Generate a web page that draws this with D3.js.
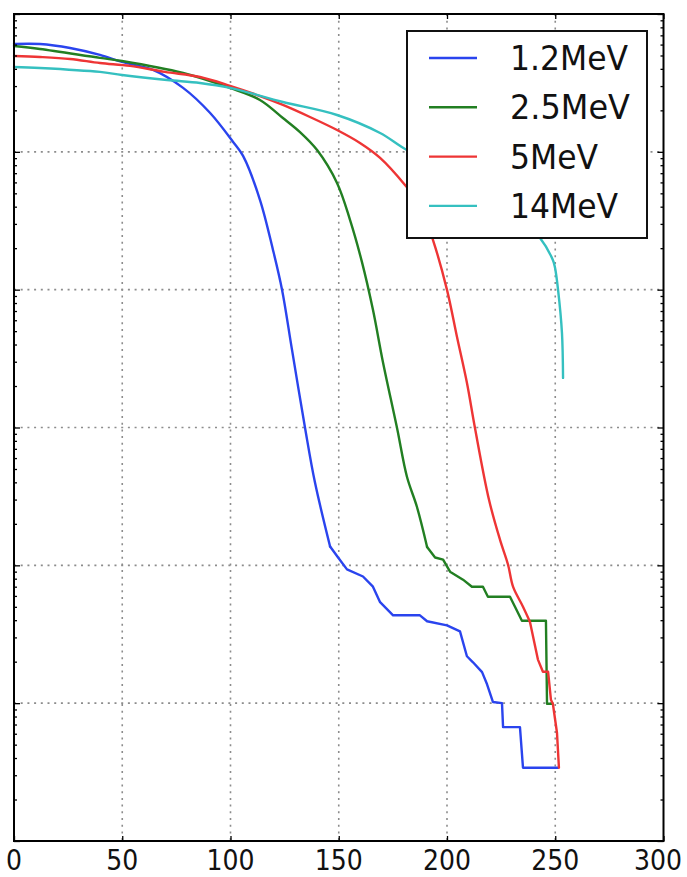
<!DOCTYPE html>
<html>
<head>
<meta charset="utf-8">
<script src="https://cdnjs.cloudflare.com/ajax/libs/d3/7.8.5/d3.min.js"></script>
<style>
body { margin: 0; background: #fff; }
</style>
</head>
<body>
<div id="chart"></div>
<script>
//Series names shown in the legend
var seriesNames = ["1.2MeV", "2.5MeV", "5MeV", "14MeV"];

//1.2MeV curve
var x12 = [0, 12.0, 25.9, 39.7, 49.9, 64.2, 78.1, 90.5, 101.2, 105.8, 113.6, 119.6, 123.8, 128.4, 134.4, 139.0, 146.0, 149.7, 153.8, 161.2, 165.8, 169.1, 175.1, 187.5, 190.8, 200.0, 206.0, 209.2, 212.0, 216.2, 218.5, 221.2, 225.4, 225.9, 233.7, 235.1, 251.3];
var y12 = [0.606, 0.606, 0.567, 0.505, 0.449, 0.393, 0.291, 0.192, 0.118, 0.0934, 0.0449, 0.0195, 0.01, 3.67e-3, 1e-3, 4.0e-4, 1.37e-4, 1.14e-4, 9.35e-5, 8.3e-5, 7.0e-5, 5.4e-5, 4.34e-5, 4.34e-5, 3.93e-5, 3.67e-5, 3.32e-5, 2.19e-5, 1.98e-5, 1.68e-5, 1.37e-5, 1.02e-5, 1.0e-5, 6.7e-6, 6.7e-6, 3.4e-6, 3.4e-6];

//2.5MeV curve
var x25 = [0, 12.0, 39.7, 49.9, 78.1, 99.8, 113.6, 124.2, 132.1, 140.0, 149.2, 155.2, 160.7, 165.8, 170.4, 176.9, 181.5, 186.1, 190.8, 194.5, 198.2, 201.4, 207.4, 211.5, 216.6, 218.9, 229.1, 231.4, 234.6, 245.7, 246.2, 248.9];
var y25 = [0.586, 0.557, 0.480, 0.456, 0.373, 0.291, 0.238, 0.176, 0.139, 0.103, 0.0595, 0.0321, 0.0159, 7.14e-3, 2.99e-3, 9.95e-4, 4.39e-4, 2.66e-4, 1.36e-4, 1.14e-4, 1.10e-4, 8.99e-5, 7.87e-5, 7.0e-5, 7.0e-5, 5.92e-5, 5.92e-5, 5.01e-5, 3.96e-5, 3.96e-5, 9.9e-6, 9.9e-6];

//5MeV curve
var x5 = [0, 12.0, 25.9, 39.7, 53.6, 69.7, 85.9, 99.8, 113.6, 124.2, 136.7, 149.2, 159.8, 169.1, 180.6, 187.5, 193.5, 200.0, 204.6, 209.2, 212.9, 219.4, 224.5, 228.2, 230.5, 235.1, 238.3, 242.0, 244.3, 246.7, 248.0, 248.9, 250.8, 251.7];
var y5 = [0.496, 0.488, 0.472, 0.441, 0.420, 0.380, 0.349, 0.301, 0.254, 0.219, 0.179, 0.144, 0.116, 0.0904, 0.0575, 0.0412, 0.0230, 9.97e-3, 4.55e-3, 2.11e-3, 9.95e-4, 2.99e-4, 1.53e-4, 1.01e-4, 7.0e-5, 5.01e-5, 3.90e-5, 2.07e-5, 1.69e-5, 1.69e-5, 1.06e-5, 9.9e-6, 6.1e-6, 3.4e-6];

//14MeV curve
var x14 = [0, 12.0, 39.7, 49.9, 70.7, 85.9, 99.8, 124.2, 149.2, 169.1, 181.5, 201.4, 219.9, 233.7, 242.9, 248.9, 249.9, 251.3, 253.1, 253.6];
var y14 = [0.413, 0.406, 0.380, 0.361, 0.332, 0.316, 0.291, 0.230, 0.185, 0.137, 0.103, 0.0739, 0.0504, 0.0332, 0.0238, 0.0164, 0.0144, 9.97e-3, 4.86e-3, 2.29e-3];

//Axis ticks
var xTicks = [0, 50, 100, 150, 200, 250, 300];
var yDecades = [1e-6, 1e-5, 1e-4, 1e-3, 1e-2, 1e-1, 1];

var seriesX = [x12, x25, x5, x14];
var seriesY = [y12, y25, y5, y14];
var colors = ["#2a44ee", "#227f22", "#ee3535", "#35c0c0"];
//how many leading points of each curve are drawn smooth; the stepped tail is drawn straight
var smoothCount = [17, 19, 27, 20];

var width = 687;
var height = 877;
//plot box edges (not named top/left: top is taken by window.top)
var pLeft = 14, pRight = 663.5, pTop = 14, pBottom = 841;

var xScale = d3.scaleLinear().domain([0, 300]).range([pLeft, pRight]);
var yScale = d3.scaleLog().domain([1e-6, 1]).range([pBottom, pTop]);

var svg = d3.select("#chart").append("svg")
    .attr("width", width)
    .attr("height", height)
    .style("font-family", "DejaVu Sans, sans-serif");

svg.append("rect").attr("width", width).attr("height", height).attr("fill", "#fff");

//Dotted grid
var grid = svg.append("g")
    .attr("stroke", "#8c8c8c")
    .attr("stroke-width", 1.6)
    .attr("stroke-dasharray", "2,4.7");

grid.selectAll(".gx")
    .data(xTicks.slice(1, -1))
    .enter().append("line")
        .attr("x1", function(d){ return xScale(d); })
        .attr("x2", function(d){ return xScale(d); })
        .attr("y1", pTop)
        .attr("y2", pBottom);

grid.selectAll(".gy")
    .data(yDecades.slice(1, -1))
    .enter().append("line")
        .attr("y1", function(d){ return yScale(d); })
        .attr("y2", function(d){ return yScale(d); })
        .attr("x1", pLeft)
        .attr("x2", pRight);

//Curves
var smoothLine = d3.line()
    .curve(d3.curveCatmullRom.alpha(0.5))
    .x(function(d){ return xScale(d[0]); })
    .y(function(d){ return yScale(d[1]); });

var stepLine = d3.line()
    .x(function(d){ return xScale(d[0]); })
    .y(function(d){ return yScale(d[1]); });

seriesX.forEach(function(xs, i){
    var pts = xs.map(function(x, j){ return [x, seriesY[i][j]]; });
    var n = smoothCount[i];
    var parts = [[smoothLine, pts.slice(0, n)]];
    if (n < pts.length) parts.push([stepLine, pts.slice(n - 1)]);
    parts.forEach(function(p){
        svg.append("path")
            .datum(p[1])
            .attr("d", p[0])
            .attr("fill", "none")
            .attr("stroke", colors[i])
            .attr("stroke-width", 2.4)
            .attr("stroke-linejoin", "round")
            .attr("stroke-linecap", "round");
    });
});

//Ticks pointing inward on all four sides
var xTop = d3.axisBottom(xScale).tickValues(xTicks).tickSizeInner(5).tickSizeOuter(0).tickFormat("");
var xBot = d3.axisTop(xScale).tickValues(xTicks).tickSizeInner(5).tickSizeOuter(0).tickFormat("");
svg.append("g").attr("transform", "translate(0," + pTop + ")").call(xTop);
svg.append("g").attr("transform", "translate(0," + pBottom + ")").call(xBot);

var minor = [];
yDecades.slice(0, -1).forEach(function(d){
    for (var k = 2; k < 10; k++) minor.push(d * k);
});

var yL = d3.axisRight(yScale).tickValues(yDecades).tickSizeInner(6).tickSizeOuter(0).tickFormat("");
var yR = d3.axisLeft(yScale).tickValues(yDecades).tickSizeInner(6).tickSizeOuter(0).tickFormat("");
var yLm = d3.axisRight(yScale).tickValues(minor).tickSizeInner(3).tickSizeOuter(0).tickFormat("");
var yRm = d3.axisLeft(yScale).tickValues(minor).tickSizeInner(3).tickSizeOuter(0).tickFormat("");
svg.append("g").attr("transform", "translate(" + pLeft + ",0)").call(yL);
svg.append("g").attr("transform", "translate(" + pRight + ",0)").call(yR);
svg.append("g").attr("transform", "translate(" + pLeft + ",0)").call(yLm);
svg.append("g").attr("transform", "translate(" + pRight + ",0)").call(yRm);

svg.selectAll(".domain").remove();
svg.selectAll(".tick line").attr("stroke", "#000").attr("stroke-width", 1.3);

//Frame
svg.append("rect")
    .attr("x", pLeft).attr("y", pTop)
    .attr("width", pRight - pLeft).attr("height", pBottom - pTop)
    .attr("fill", "none")
    .attr("stroke", "#000")
    .attr("stroke-width", 2);

//X tick labels (first and last nudged in so they stay on the page)
svg.selectAll(".xl")
    .data(xTicks)
    .enter().append("text")
        .attr("x", function(d){ return Math.min(Math.max(xScale(d), 10), 658); })
        .attr("y", 870)
        .attr("text-anchor", "middle")
        .attr("font-size", 28)
        .attr("textLength", function(d){ return String(d).length * 16; })
        .attr("lengthAdjust", "spacingAndGlyphs")
        .attr("fill", "#111")
        .text(function(d){ return d; });

//Legend
var legend = svg.append("g");
legend.append("rect")
    .attr("x", 407).attr("y", 31)
    .attr("width", 240).attr("height", 207)
    .attr("fill", "#fff")
    .attr("stroke", "#111")
    .attr("stroke-width", 2);

var legendLen = [118, 120, 88, 108];
seriesNames.forEach(function(name, i){
    var yy = 58 + i * 49.3;
    legend.append("line")
        .attr("x1", 429).attr("x2", 477)
        .attr("y1", yy).attr("y2", yy)
        .attr("stroke", colors[i])
        .attr("stroke-width", 2.4);
    legend.append("text")
        .attr("x", 510)
        .attr("y", yy + 12)
        .attr("font-size", 33)
        .attr("textLength", legendLen[i])
        .attr("lengthAdjust", "spacingAndGlyphs")
        .attr("fill", "#111")
        .text(name);
});
</script>
</body>
</html>
